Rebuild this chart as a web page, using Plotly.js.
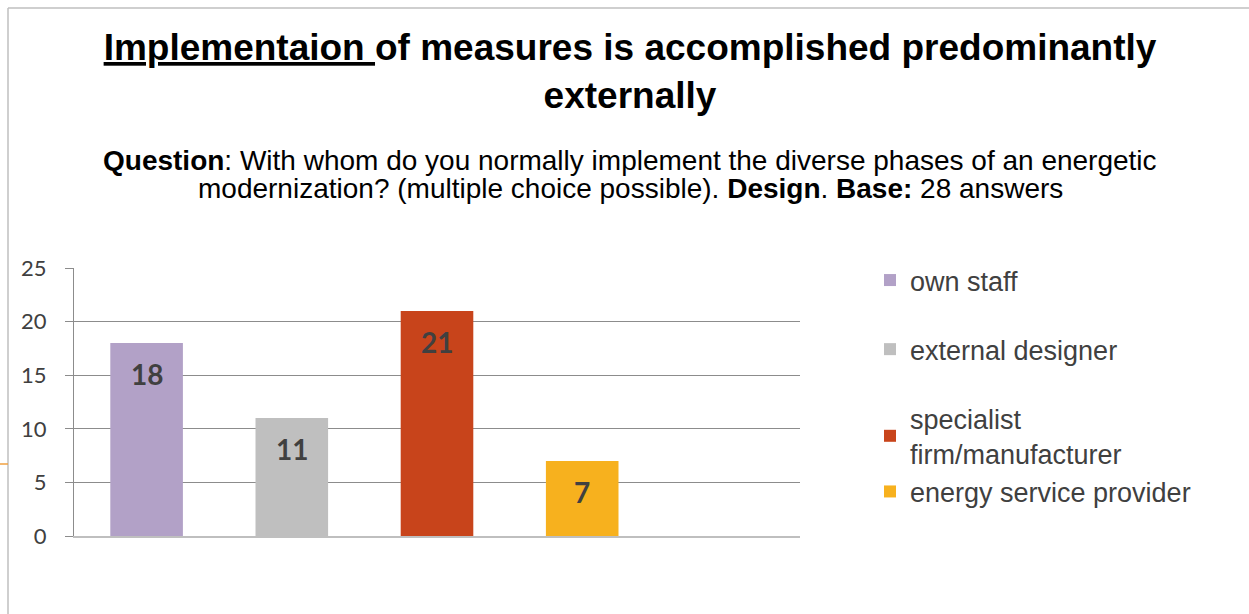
<!DOCTYPE html>
<html><head><meta charset="utf-8">
<script src="https://cdn.plot.ly/plotly-3.0.1.min.js"></script>
<style>html,body{margin:0;padding:0;background:#fff}#chart{width:1249px;height:614px}</style>
</head><body><div id="chart"></div>
<script>
const seriesNames = ["own staff", "external designer", "specialist<br>firm/manufacturer", "energy service provider"];
const seriesValues = [18, 11, 21, 7];
const seriesColors = ["#B2A1C7", "#BFBFBF", "#C8441B", "#F7B11E"];
const categories = [0, 1, 2, 3, 4];
const yTicks = [0, 5, 10, 15, 20, 25];
const legendGroups = ["g1", "g2", "g3", "g3"];

const L = 74, R = 800, T = 268, B = 536, W = 1249, H = 614;
const px = v => (v - L) / (R - L);
const py = v => (B - v) / (B - T);

const traces = seriesNames.map((n, i) => ({
  type: 'bar',
  name: n,
  x: [categories[i]],
  y: [seriesValues[i]],
  width: 0.5,
  marker: {color: seriesColors[i], line: {width: 0}},
  legendgroup: legendGroups[i],
  hoverinfo: 'none'
}));

const annotations = seriesValues.map((v, i) => ({
  x: categories[i], y: v, xref: 'x', yref: 'y',
  text: '<b>' + v + '</b>', showarrow: false,
  yshift: -31, font: {family: 'Lato, Carlito, sans-serif', size: 28, color: '#404040'}
}));

annotations.push({
  xref: 'paper', yref: 'paper', x: px(630), y: py(160), xanchor: 'center', yanchor: 'middle',
  showarrow: false,
  text: '<b>Question</b>: With whom do you normally implement the diverse phases of an energetic',
  font: {family: 'Liberation Sans, Arial, sans-serif', size: 28, color: '#000'}
});
annotations.push({
  xref: 'paper', yref: 'paper', x: px(630), y: py(188), xanchor: 'center', yanchor: 'middle',
  showarrow: false,
  text: 'modernization? (multiple choice possible). <b>Design</b>. <b>Base:</b> 28 answers',
  font: {family: 'Liberation Sans, Arial, sans-serif', size: 28, color: '#000'}
});

const layout = {
  width: W, height: H,
  margin: {l: L, r: W - R, t: T, b: H - B, pad: 0},
  paper_bgcolor: '#fff', plot_bgcolor: '#fff',
  barmode: 'overlay',
  title: {
    text: '<b><span style="text-decoration:underline">Implementaion </span>of measures is accomplished predominantly<br>externally</b>',
    font: {family: 'Liberation Sans, Arial, sans-serif', size: 37, color: '#000'},
    x: 630 / W, xref: 'container', xanchor: 'center',
    y: 1 - 60 / H, yref: 'container', yanchor: 'middle'
  },
  xaxis: {
    range: [-0.5, 4.5], showticklabels: false, ticks: '', showgrid: false,
    zeroline: false, showline: true, linecolor: '#BFBFBF', linewidth: 2, fixedrange: true
  },
  yaxis: {
    range: [0, 25], tickvals: yTicks, ticktext: yTicks.map(String),
    showgrid: true, gridcolor: '#8C8C8C', gridwidth: 1,
    ticks: 'outside', ticklen: 8, tickcolor: '#8C8C8C', tickwidth: 1,
    showline: true, linecolor: '#8C8C8C', linewidth: 1, zeroline: false,
    tickfont: {family: 'Lato, Carlito, sans-serif', size: 22, color: '#404040'},
    ticklabelstandoff: 14, fixedrange: true
  },
  legend: {
    x: px(870), y: py(256), xanchor: 'left', yanchor: 'top',
    font: {family: 'Liberation Sans, Arial, sans-serif', size: 27, color: '#404040'},
    tracegroupgap: 31, traceorder: 'grouped', bgcolor: 'rgba(0,0,0,0)',
    itemclick: false, itemdoubleclick: false
  },
  annotations: annotations,
  shapes: [
    {type: 'line', xref: 'paper', yref: 'paper', x0: px(8), x1: px(8), y0: py(8), y1: py(H), line: {color: '#BFBFBF', width: 1.5}},
    {type: 'line', xref: 'paper', yref: 'paper', x0: px(8), x1: px(W), y0: py(8), y1: py(8), line: {color: '#BFBFBF', width: 1.5}},
    {type: 'line', xref: 'paper', yref: 'paper', x0: px(0), x1: px(8), y0: py(464), y1: py(464), line: {color: '#F0A040', width: 1.5}}
  ]
};

Plotly.newPlot('chart', traces, layout, {displayModeBar: false, staticPlot: true});
</script></body></html>
